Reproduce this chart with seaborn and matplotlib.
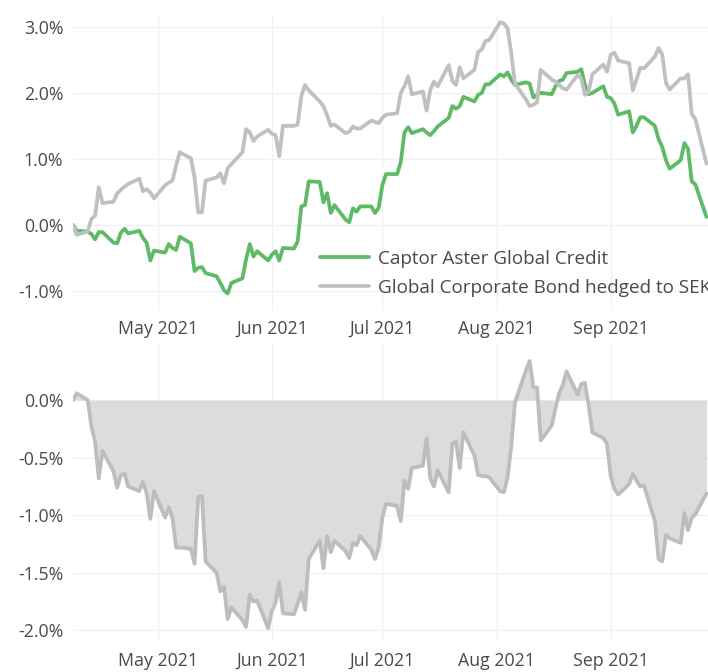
import numpy as np
import pandas as pd
import seaborn as sns
import matplotlib.pyplot as plt
import matplotlib.dates as mdates
from matplotlib.ticker import PercentFormatter, FixedLocator

# business days shown in the chart
dates = pd.bdate_range("2021-04-08", "2021-09-27")

# cumulative return, % (Captor Aster Global Credit)
captor = [
    # Apr
    0.00, -0.09, -0.10, -0.14, -0.22, -0.11, -0.11, -0.27, -0.28, -0.12, -0.06, -0.13, -0.09, -0.20, -0.27, -0.54, -0.39,
    # May
    -0.42, -0.29, -0.35, -0.38, -0.18, -0.28, -0.70, -0.65, -0.64, -0.73, -0.78, -0.88, -0.99, -1.04, -0.88, -0.81, -0.52, -0.29, -0.48, -0.40, -0.54,
    # Jun
    -0.45, -0.40, -0.54, -0.35, -0.36, -0.25, 0.28, 0.30, 0.66, 0.65, 0.34, 0.48, 0.18, 0.30, 0.08, 0.04, 0.25, 0.20, 0.28, 0.28, 0.18, 0.26,
    # Jul
    0.60, 0.77, 0.77, 0.95, 1.40, 1.48, 1.39, 1.45, 1.40, 1.36, 1.42, 1.49, 1.62, 1.80, 1.76, 1.80, 1.94, 1.87, 1.97, 2.00, 2.13, 2.13,
    # Aug
    2.28, 2.25, 2.31, 2.20, 2.12, 2.16, 2.14, 1.93, 1.97, 2.00, 1.98, 2.10, 2.18, 2.20, 2.30, 2.32, 2.36, 2.12, 1.98, 2.00, 2.10, 1.94,
    # Sep
    1.92, 1.84, 1.67, 1.72, 1.40, 1.50, 1.63, 1.63, 1.50, 1.30, 1.18, 0.98, 0.85, 0.98, 1.24, 1.15, 0.66, 0.61, 0.12,
]

# cumulative return, % (Global Corporate Bond hedged to SEK)
benchmark = [
    # Apr
    0.00, -0.15, -0.10, 0.09, 0.14, 0.57, 0.33, 0.35, 0.48, 0.53, 0.58, 0.62, 0.70, 0.51, 0.54, 0.49, 0.40,
    # May
    0.60, 0.64, 0.67, 0.90, 1.10, 1.01, 0.72, 0.19, 0.19, 0.67, 0.72, 0.78, 0.63, 0.86, 0.92, 1.10, 1.45, 1.40, 1.27, 1.34, 1.44,
    # Jun
    1.38, 1.36, 1.04, 1.50, 1.50, 1.52, 1.95, 2.12, 2.04, 1.87, 1.80, 1.66, 1.50, 1.52, 1.39, 1.41, 1.49, 1.46, 1.46, 1.58, 1.56, 1.54,
    # Jul
    1.62, 1.67, 1.69, 2.00, 2.10, 2.25, 1.98, 2.02, 1.73, 2.04, 2.17, 2.10, 2.42, 2.18, 2.12, 2.39, 2.22, 2.35, 2.62, 2.66, 2.79, 2.80,
    # Aug
    3.07, 3.05, 2.98, 2.60, 2.14, 1.90, 1.80, 1.82, 1.86, 2.35, 2.20, 2.17, 2.12, 2.07, 2.05, 2.27, 2.22, 1.97, 2.02, 2.28, 2.43, 2.32,
    # Sep
    2.58, 2.61, 2.49, 2.45, 2.04, 2.20, 2.38, 2.37, 2.55, 2.68, 2.58, 2.15, 2.05, 2.22, 2.22, 2.28, 1.68, 1.60, 0.93,
]

names = ["Captor Aster Global Credit", "Global Corporate Bond hedged to SEK"]
colors = ["#5fba66", "#c0c0c0"]
top_ticks = [-1.0, 0.0, 1.0, 2.0, 3.0]
bottom_ticks = [-2.0, -1.5, -1.0, -0.5, 0.0]

df = pd.DataFrame({"date": dates, names[0]: captor, names[1]: benchmark})
df["diff"] = df[names[0]] - df[names[1]]

sns.set_theme(style="white")
plt.rcParams["font.family"] = ["Open Sans", "DejaVu Sans"]
plt.rcParams["axes.unicode_minus"] = False
text_color = "#4a4a4a"

fig = plt.figure(figsize=(7.08, 6.72), dpi=100)
ax1 = fig.add_axes([73 / 708, 1 - 310 / 672, 635 / 708, 295 / 672])
ax2 = fig.add_axes([73 / 708, 1 - 642 / 672, 635 / 708, 299 / 672])

for name, color in zip(names, colors):
    sns.lineplot(data=df, x="date", y=name, ax=ax1, color=color, lw=2.7, label=name)

sns.lineplot(data=df, x="date", y="diff", ax=ax2, color="#bdbdbd", lw=2.7, legend=False)
ax2.fill_between(df["date"], df["diff"], 0, color="#dcdcdc", lw=0, zorder=1)

x_end = pd.Timestamp("2021-09-27 10:00")
ax1.set_ylim(-1.29, 3.18)
ax2.set_ylim(-2.10, 0.496)
ax1.yaxis.set_major_locator(FixedLocator(top_ticks))
ax2.yaxis.set_major_locator(FixedLocator(bottom_ticks))

for ax in (ax1, ax2):
    ax.set_xlim(pd.Timestamp("2021-04-08"), x_end)
    ax.xaxis.set_major_locator(mdates.MonthLocator(bymonth=[5, 6, 7, 8, 9]))
    ax.xaxis.set_major_formatter(mdates.DateFormatter("%b %Y"))
    ax.yaxis.set_major_formatter(PercentFormatter(xmax=100, decimals=1))
    ax.grid(True, color="#f1f1f1", lw=1, zorder=0.5)
    ax.set_axisbelow(True)
    for s in ax.spines.values():
        s.set_visible(False)
    ax.tick_params(length=0, labelsize=12.8, colors=text_color, pad=7)
    ax.set_xlabel("")
    ax.set_ylabel("")

leg = ax1.legend(loc="upper left", bbox_to_anchor=(0.389, 0.205), frameon=False,
                 borderpad=0, borderaxespad=0, handlelength=2.6, handletextpad=0.45,
                 labelspacing=0.6, fontsize=13.6)
for t in leg.get_texts():
    t.set_color(text_color)

fig.savefig("out.png", dpi=100)
